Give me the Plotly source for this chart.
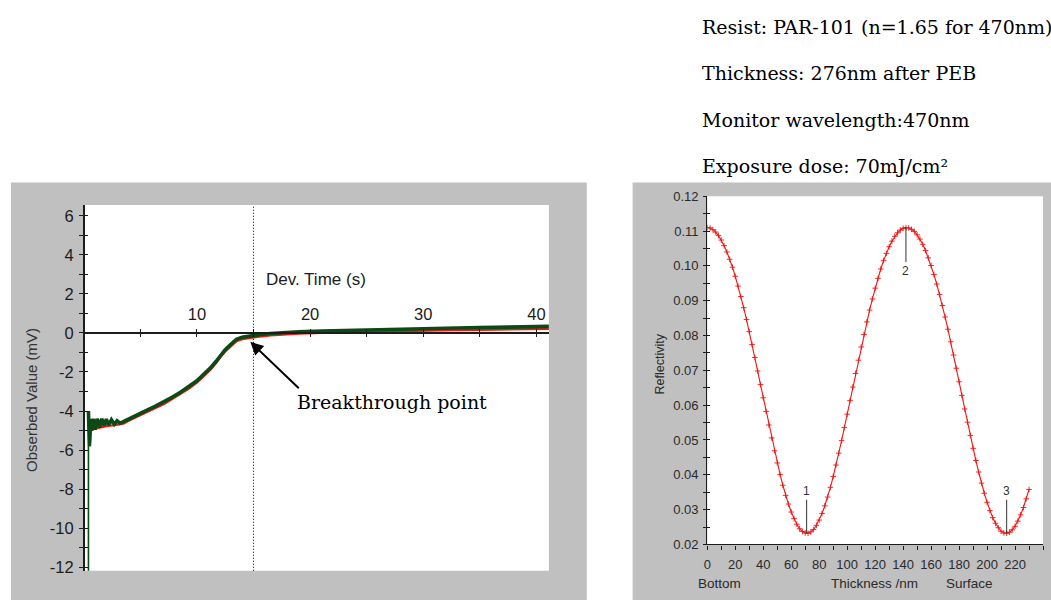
import plotly.graph_objects as go

W, H = 1051, 609

# ---------------- development monitor (left panel) ----------------
# measured signal: development time (s) vs observed value (mV)
obs_time = [0.42, 0.50, 0.58, 0.70, 0.85, 1.00, 1.20, 1.40, 1.60, 1.80, 2.00, 2.20,
            2.45, 2.70, 2.95, 3.20, 3.50, 4.15, 5.00, 5.60, 6.30, 7.10, 7.80, 8.55,
            9.30, 10.0, 10.6, 11.2, 11.7, 12.1, 12.5, 13.0, 13.5, 14.0, 14.7, 15.5,
            16.5, 17.5, 19.0, 21.0, 23.0, 25.0, 27.5, 30.0, 32.5, 35.0, 37.5, 40.0, 41.1]
obs_mv = [-4.00, -5.80, -4.40, -5.00, -4.40, -4.95, -4.40, -4.85, -4.40, -4.75, -4.42, -4.72,
          -4.45, -4.68, -4.50, -4.62, -4.55, -4.35, -4.10, -3.95, -3.76, -3.54, -3.30, -3.04,
          -2.75, -2.45, -2.12, -1.79, -1.45, -1.12, -0.86, -0.58, -0.32, -0.22, -0.15, -0.09,
          -0.03, 0.02, 0.06, 0.10, 0.13, 0.16, 0.19, 0.23, 0.26, 0.28, 0.30, 0.33, 0.34]

# start-up transient of the detector
start_time = [0.42, 0.42]
start_mv = [-12.5, -5.8]

# smoothed trace drawn underneath the measured one
fit_time = [0.55, 0.65, 1.0, 2.0, 3.0, 3.5, 4.15, 5.0, 5.6, 6.3, 7.1, 7.8, 8.55, 9.3,
            10.0, 10.6, 11.2, 11.7, 12.1, 12.5, 13.0, 13.5, 14.0, 14.7, 15.5, 16.5,
            17.5, 19.0, 21.0, 23.0, 25.0, 27.5, 30.0, 32.5, 35.0, 37.5, 40.0, 41.1]
fit_mv = [-5.80, -5.00, -4.90, -4.78, -4.70, -4.65, -4.45, -4.20, -4.05, -3.86, -3.64, -3.40,
          -3.14, -2.85, -2.55, -2.22, -1.89, -1.55, -1.22, -0.96, -0.68, -0.42, -0.32, -0.25,
          -0.19, -0.13, -0.08, -0.04, 0.00, 0.03, 0.06, 0.09, 0.12, 0.14, 0.16, 0.18, 0.20, 0.21]

breakthrough_time = 15.0
arrow_tip_time, arrow_tip_mv = 14.72, -0.45

left_x_range = [0, 41.1]
left_y_range = [-12.19, 6.56]
left_x_major = [10, 20, 30, 40]
left_x_minor = [5, 15, 25, 35]
left_y_major = [6, 4, 2, 0, -2, -4, -6, -8, -10, -12]
left_y_labels = ["6", "4", "2", "0", "-2", "-4", "-6", "-8", "-10", "-12"]
left_y_minor = [5, 3, 1, -1, -3, -5, -7, -9, -11]

# ---------------- reflectivity vs. thickness (right panel) ----------------
thickness_nm = list(range(0, 232, 2))
reflectivity = [
    0.1110, 0.1109, 0.1104, 0.1097, 0.1087, 0.1074, 0.1058, 0.1040, 0.1019, 0.0996,
    0.0970, 0.0942, 0.0912, 0.0880, 0.0846, 0.0811, 0.0774, 0.0737, 0.0698, 0.0659,
    0.0621, 0.0582, 0.0543, 0.0506, 0.0469, 0.0434, 0.0401, 0.0370, 0.0341, 0.0316,
    0.0293, 0.0274, 0.0258, 0.0245, 0.0237, 0.0233, 0.0232, 0.0236, 0.0243, 0.0255,
    0.0270, 0.0289, 0.0311, 0.0336, 0.0364, 0.0395, 0.0428, 0.0462, 0.0498, 0.0536,
    0.0574, 0.0613, 0.0652, 0.0691, 0.0729, 0.0767, 0.0803, 0.0839, 0.0873, 0.0905,
    0.0936, 0.0964, 0.0991, 0.1015, 0.1036, 0.1055, 0.1071, 0.1085, 0.1095, 0.1103,
    0.1108, 0.1110, 0.1109, 0.1105, 0.1099, 0.1089, 0.1077, 0.1062, 0.1044, 0.1023,
    0.1001, 0.0975, 0.0948, 0.0918, 0.0886, 0.0853, 0.0818, 0.0782, 0.0744, 0.0706,
    0.0667, 0.0628, 0.0589, 0.0551, 0.0513, 0.0476, 0.0441, 0.0408, 0.0376, 0.0347,
    0.0321, 0.0297, 0.0277, 0.0261, 0.0248, 0.0238, 0.0233, 0.0232, 0.0235, 0.0242,
    0.0252, 0.0267, 0.0285, 0.0306, 0.0331, 0.0358,
]
mark_nm = [71, 142, 214]
mark_r = [0.0232, 0.1110, 0.0232]
mark_text = ["1", "2", "3"]

notes = [
    "Resist: PAR-101 (n=1.65 for 470nm)",
    "Thickness: 276nm after PEB",
    "Monitor wavelength:470nm",
    "Exposure dose: 70mJ/cm²",
]

# ---------------- layout geometry (pixels) ----------------
L_PLOT = (80, 547, 203, 578)      # left, right, top, bottom
R_PLOT = (706, 1043, 194, 551)
L_PANEL = (7, 585, 180, 608)
R_PANEL = (631, 1051, 180, 608)


def px(x):
    return x / W


def py(y):
    return 1 - y / H


def xdom(box):
    return [px(box[0]), px(box[1])]


def ydom(box):
    return [py(box[3]), py(box[2])]


SANS = "Liberation Sans, Arial, sans-serif"
SERIF = "DejaVu Serif, serif"
AX = "#1c1c1c"
RED = "rgb(240,20,20)"
GREEN = "#0b4a14"
GREY = "#c0c0c0"

ld_y = ydom(L_PLOT)
zero_pos = ld_y[0] + (0 - left_y_range[0]) / (left_y_range[1] - left_y_range[0]) * (ld_y[1] - ld_y[0])

fig = go.Figure()

fig.add_trace(go.Scatter(x=fit_time, y=fit_mv, mode="lines",
                         line=dict(color=RED, width=2.2), xaxis="x", yaxis="y",
                         showlegend=False, hoverinfo="skip"))
fig.add_trace(go.Scatter(x=start_time, y=start_mv, mode="lines",
                         line=dict(color=GREEN, width=1.6), xaxis="x", yaxis="y",
                         showlegend=False, hoverinfo="skip"))
fig.add_trace(go.Scatter(x=obs_time, y=obs_mv, mode="lines",
                         line=dict(color=GREEN, width=3.6), xaxis="x", yaxis="y",
                         showlegend=False, hoverinfo="skip"))
# companion axes carrying the opposite half of the crossing ticks
fig.add_trace(go.Scatter(x=[], y=[], xaxis="x3", yaxis="y", showlegend=False, hoverinfo="skip"))
fig.add_trace(go.Scatter(x=[], y=[], xaxis="x", yaxis="y3", showlegend=False, hoverinfo="skip"))
fig.add_trace(go.Scatter(x=[], y=[], xaxis="x2", yaxis="y4", showlegend=False, hoverinfo="skip"))

fig.add_trace(go.Scatter(x=thickness_nm, y=reflectivity, mode="lines+markers",
                         line=dict(color=RED, width=1.1),
                         marker=dict(symbol="cross-thin", size=4, line=dict(color=RED, width=0.9)),
                         xaxis="x2", yaxis="y2", showlegend=False, hoverinfo="skip"))

left_font = dict(family=SANS, size=16.5, color=AX)
right_font = dict(family=SANS, size=13, color="#2a2a2a")

common = dict(showgrid=False, zeroline=False, fixedrange=True)

fig.update_layout(
    width=W, height=H,
    margin=dict(l=0, r=0, t=0, b=0),
    paper_bgcolor="white",
    plot_bgcolor="white",
    xaxis=dict(domain=xdom(L_PLOT), range=left_x_range, anchor="free", position=zero_pos,
               side="top", showline=True, linecolor=AX, linewidth=1.5,
               ticks="outside", ticklen=3, tickwidth=1.3, tickcolor=AX,
               tickmode="array", tickvals=left_x_major, ticklabelstandoff=3,
               minor=dict(tickmode="array", tickvals=left_x_minor, ticks="outside",
                          ticklen=3, tickwidth=1.3, tickcolor=AX),
               tickfont=left_font, **common),
    xaxis3=dict(overlaying="x", range=left_x_range, anchor="free", position=zero_pos,
                side="bottom", showline=False, showticklabels=False,
                ticks="outside", ticklen=3, tickwidth=1.3, tickcolor=AX,
                tickmode="array", tickvals=left_x_major,
                minor=dict(tickmode="array", tickvals=left_x_minor, ticks="outside",
                           ticklen=3, tickwidth=1.3, tickcolor=AX),
                **common),
    yaxis=dict(domain=ld_y, range=left_y_range, anchor="free", position=px(L_PLOT[0]),
               side="left", showline=True, linecolor=AX, linewidth=1.5,
               ticks="outside", ticklen=4, tickwidth=1.3, tickcolor=AX,
               tickmode="array", tickvals=left_y_major, ticktext=left_y_labels,
               ticklabelstandoff=2,
               minor=dict(tickmode="array", tickvals=left_y_minor, ticks="outside",
                          ticklen=4, tickwidth=1.3, tickcolor=AX),
               tickfont=left_font, **common),
    yaxis3=dict(overlaying="y", range=left_y_range, anchor="free", position=px(L_PLOT[0]),
                side="left", showline=False, showticklabels=False,
                ticks="inside", ticklen=3, tickwidth=1.3, tickcolor=AX,
                tickmode="array", tickvals=left_y_major,
                minor=dict(tickmode="array", tickvals=left_y_minor, ticks="inside",
                           ticklen=3, tickwidth=1.3, tickcolor=AX),
                **common),
    xaxis2=dict(domain=xdom(R_PLOT), range=[0, 240], anchor="y2", side="bottom",
                showline=True, linecolor=AX, linewidth=1.3,
                ticks="outside", ticklen=4, tickwidth=1.2, tickcolor=AX,
                tick0=0, dtick=20, ticklabelstandoff=4,
                minor=dict(tick0=0, dtick=10, ticks="outside", ticklen=4,
                           tickwidth=1.2, tickcolor=AX),
                tickfont=right_font, **common),
    yaxis2=dict(domain=ydom(R_PLOT), range=[0.02, 0.12], anchor="x2", side="left",
                showline=True, linecolor=AX, linewidth=1.3,
                ticks="outside", ticklen=3, tickwidth=1.2, tickcolor=AX,
                tick0=0.02, dtick=0.01, tickformat=".2f", ticklabelstandoff=2,
                minor=dict(tick0=0.02, dtick=0.005, ticks="outside", ticklen=3,
                           tickwidth=1.2, tickcolor=AX),
                tickfont=right_font, **common),
    yaxis4=dict(overlaying="y2", range=[0.02, 0.12], anchor="x2", side="left",
                showline=False, showticklabels=False,
                ticks="inside", ticklen=3, tickwidth=1.2, tickcolor=AX,
                tick0=0.02, dtick=0.01,
                minor=dict(tick0=0.02, dtick=0.005, ticks="inside", ticklen=3,
                           tickwidth=1.2, tickcolor=AX),
                **common),
)

# grey window frames behind each plot area, then the white plotting fields
shapes = []
for box in (L_PANEL, R_PANEL):
    shapes.append(dict(type="rect", xref="paper", yref="paper", layer="below",
                       x0=px(box[0]), x1=px(box[1]), y0=py(box[3]), y1=py(box[2]),
                       fillcolor=GREY, line=dict(width=0)))
for box in (L_PLOT, R_PLOT):
    shapes.append(dict(type="rect", xref="paper", yref="paper", layer="below",
                       x0=px(box[0]), x1=px(box[1]), y0=py(box[3]), y1=py(box[2]),
                       fillcolor="white", line=dict(width=0)))
# breakthrough marker line
shapes.append(dict(type="line", xref="x", yref="y domain", x0=breakthrough_time,
                   x1=breakthrough_time, y0=0, y1=1,
                   line=dict(color="black", width=1, dash="1px,2px")))
fig.update_layout(shapes=shapes)

ann = []
ann.append(dict(xref="paper", yref="paper", x=px(261), y=py(279), xanchor="left",
                yanchor="middle", text="Dev. Time (s)", showarrow=False,
                font=dict(family=SANS, size=17, color=AX)))
ann.append(dict(xref="paper", yref="paper", x=px(27), y=py(403), xanchor="center",
                yanchor="middle", text="Obserbed Value (mV)", textangle=-90, showarrow=False,
                font=dict(family=SANS, size=15, color="#333")))
ann.append(dict(xref="x", yref="y", x=arrow_tip_time, y=arrow_tip_mv, ax=50, ay=48,
                text="", showarrow=True, arrowhead=2, arrowsize=1.3, arrowwidth=2,
                arrowcolor="black", standoff=0))
ann.append(dict(xref="paper", yref="paper", x=px(292), y=py(405), xanchor="left",
                yanchor="middle", text="Breakthrough point", showarrow=False,
                font=dict(family=SERIF, size=19, color="black")))

for nm, r, t in zip(mark_nm, mark_r, mark_text):
    up = r < 0.07
    ann.append(dict(xref="x2", yref="y2", x=nm, y=r, ax=0, ay=-42 if up else 43,
                    text=t, showarrow=True, arrowhead=0, arrowwidth=1,
                    arrowcolor="#333", standoff=0,
                    font=dict(family=SANS, size=12, color="#333")))

ann.append(dict(xref="paper", yref="paper", x=px(658), y=py(366), xanchor="center",
                yanchor="middle", text="Reflectivity", textangle=-90, showarrow=False,
                font=dict(family=SANS, size=12.5, color="#2a2a2a")))
for label, cx in (("Bottom", 718), ("Thickness /nm", 874), ("Surface", 969)):
    ann.append(dict(xref="paper", yref="paper", x=px(cx), y=py(591), xanchor="center",
                    yanchor="middle", text=label, showarrow=False,
                    font=dict(family=SANS, size=13.5, color="#2a2a2a")))

for i, line in enumerate(notes):
    ann.append(dict(xref="paper", yref="paper", x=px(699), y=py(20 + 47.7 * i),
                    xanchor="left", yanchor="middle", text=line, showarrow=False,
                    font=dict(family=SERIF, size=19, color="black")))

fig.update_layout(annotations=ann)

fig.write_html("out.html")
